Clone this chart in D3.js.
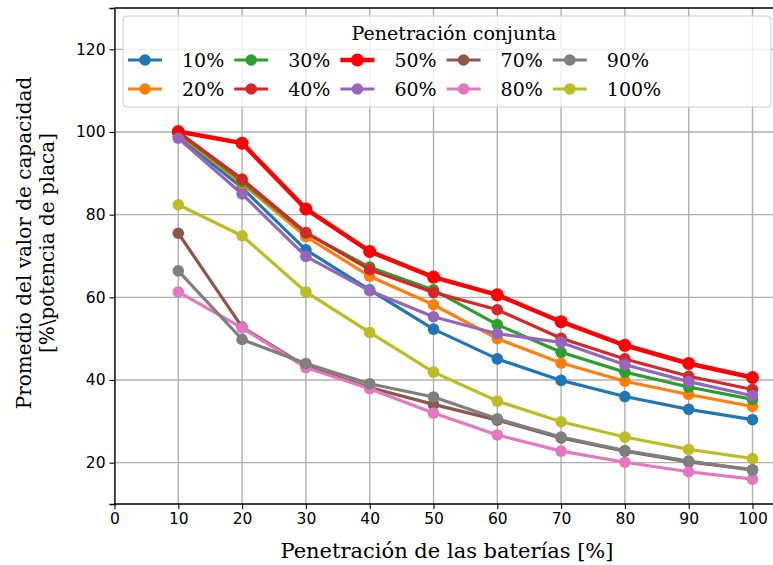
<!DOCTYPE html>
<html>
<head>
<meta charset="utf-8">
<script src="https://cdn.jsdelivr.net/npm/d3@7"></script>
<style>
  html, body { margin: 0; padding: 0; background: #fff; }
  svg { display: block; }
</style>
</head>
<body>
<svg id="chart" width="773" height="565"></svg>
<script>
// Battery penetration levels (x) and one series per joint penetration level
const batteryPen = [10, 20, 30, 40, 50, 60, 70, 80, 90, 100];
const seriesLabels = ["10%", "20%", "30%", "40%", "50%", "60%", "70%", "80%", "90%", "100%"];
const seriesColors = ["#1f77b4", "#ff7f0e", "#2ca02c", "#d62728", "#ff0000",
                      "#9467bd", "#8c564b", "#e377c2", "#7f7f7f", "#bcbd22"];
const pen10  = [99.0, 86.5, 71.5, 61.8, 52.3, 45.1, 39.9, 36.0, 32.9, 30.4];
const pen20  = [99.5, 87.5, 74.7, 65.1, 58.2, 50.0, 44.1, 39.7, 36.5, 33.6];
const pen30  = [99.8, 88.0, 75.5, 67.3, 61.8, 53.4, 46.7, 41.9, 38.3, 35.3];
const pen40  = [100.0, 88.6, 75.7, 66.7, 61.2, 57.0, 50.1, 45.1, 40.9, 37.7];
const pen50  = [100.1, 97.3, 81.4, 71.1, 64.9, 60.6, 54.1, 48.4, 44.0, 40.6];
const pen60  = [98.5, 85.0, 69.9, 61.6, 55.3, 51.2, 49.1, 43.7, 39.6, 36.2];
const pen70  = [75.5, 52.8, 43.3, 38.2, 34.1, 30.3, 26.0, 22.8, 20.2, 18.3];
const pen80  = [61.3, 52.6, 43.0, 37.9, 32.0, 26.7, 22.8, 20.1, 17.8, 16.0];
const pen90  = [66.4, 49.8, 44.0, 39.1, 35.9, 30.6, 26.2, 22.9, 20.4, 18.2];
const pen100 = [82.4, 74.9, 61.3, 51.5, 41.9, 34.9, 29.9, 26.2, 23.2, 21.0];
const seriesValues = [pen10, pen20, pen30, pen40, pen50, pen60, pen70, pen80, pen90, pen100];
const xTicks = [0, 10, 20, 30, 40, 50, 60, 70, 80, 90, 100];
const yTicks = [20, 40, 60, 80, 100, 120];

const svg = d3.select("#chart");
const plotLeft = 114.5, plotTop = 8, plotBottom = 504, xUnit = 6.38;
const x = d3.scaleLinear().domain([0, 104.5]).range([plotLeft, plotLeft + 104.5 * xUnit]);
const y = d3.scaleLinear().domain([10, 130]).range([plotBottom, plotTop]);

const serif = "'DejaVu Serif', serif";
const sans = "'DejaVu Sans', sans-serif";

// grid
const grid = svg.append("g");
grid.selectAll("line.gx").data(xTicks).join("line")
  .attr("x1", d => x(d)).attr("x2", d => x(d))
  .attr("y1", plotTop).attr("y2", plotBottom)
  .attr("stroke", "#b0b0b0").attr("stroke-width", 1.4);
grid.selectAll("line.gy").data(yTicks).join("line")
  .attr("x1", plotLeft).attr("x2", 773)
  .attr("y1", d => y(d)).attr("y2", d => y(d))
  .attr("stroke", "#b0b0b0").attr("stroke-width", 1.4);

// series
const line = d3.line().x((d, i) => x(batteryPen[i])).y(d => y(d));
seriesValues.forEach((vals, k) => {
  const thick = k === 4;
  const g = svg.append("g");
  g.append("path").datum(vals).attr("d", line)
    .attr("fill", "none").attr("stroke", seriesColors[k])
    .attr("stroke-width", thick ? 4.5 : 3.2).attr("stroke-linejoin", "round");
  g.selectAll("circle").data(vals).join("circle")
    .attr("cx", (d, i) => x(batteryPen[i])).attr("cy", d => y(d))
    .attr("r", thick ? 6.5 : 5.8).attr("fill", seriesColors[k]);
});

// axes
const xAxis = svg.append("g").attr("transform", `translate(0,${plotBottom})`)
  .call(d3.axisBottom(x).tickValues(xTicks).tickSize(5).tickPadding(4).tickFormat(d3.format("d")));
const yAxis = svg.append("g").attr("transform", `translate(${plotLeft},0)`)
  .call(d3.axisLeft(y).tickValues(yTicks).tickSize(5).tickPadding(4).tickFormat(d3.format("d")));
[xAxis, yAxis].forEach(a => {
  a.select(".domain").attr("stroke", "#000").attr("stroke-width", 1.3);
  a.selectAll(".tick line").attr("stroke", "#000").attr("stroke-width", 1.1);
  a.selectAll(".tick text").attr("fill", "#000").style("font-family", sans).style("font-size", "15.5px");
});
xAxis.select(".domain").attr("d", `M${plotLeft},0H773`);
svg.append("line").attr("x1", plotLeft).attr("x2", 773).attr("y1", plotTop).attr("y2", plotTop)
  .attr("stroke", "#000").attr("stroke-width", 1.3);

// axis titles
svg.append("text").attr("x", 447).attr("y", 558).attr("text-anchor", "middle")
  .style("font-family", serif).style("font-size", "21px")
  .text("Penetración de las baterías [%]");
const yl = svg.append("text").attr("transform", "translate(31,243) rotate(-90)")
  .attr("text-anchor", "middle").style("font-family", serif).style("font-size", "20px");
yl.append("tspan").attr("x", 0).attr("dy", 0).text("Promedio del valor de capacidad");
yl.append("tspan").attr("x", 0).attr("dy", 23).text("[%\\potencia de placa]");

// legend
const leg = svg.append("g");
leg.append("rect").attr("x", 123).attr("y", 16).attr("width", 648).attr("height", 91)
  .attr("rx", 4).attr("fill", "#fff").attr("fill-opacity", 0.8)
  .attr("stroke", "#cccccc").attr("stroke-width", 1);
leg.append("text").attr("x", 454).attr("y", 40).attr("text-anchor", "middle")
  .style("font-family", serif).style("font-size", "19px").text("Penetración conjunta");
seriesLabels.forEach((lab, k) => {
  const col = Math.floor(k / 2), row = k % 2;
  const hx = 128 + col * 106.2, hy = 60 + row * 29;
  const thick = k === 4;
  leg.append("line").attr("x1", hx).attr("x2", hx + 34).attr("y1", hy).attr("y2", hy)
    .attr("stroke", seriesColors[k]).attr("stroke-width", thick ? 4.5 : 3.2);
  leg.append("circle").attr("cx", hx + 17).attr("cy", hy).attr("r", thick ? 6.5 : 5.8)
    .attr("fill", seriesColors[k]);
  leg.append("text").attr("x", hx + 54).attr("y", hy + 7)
    .style("font-family", serif).style("font-size", "19px")
    .text(lab);
});
</script>
</body>
</html>
